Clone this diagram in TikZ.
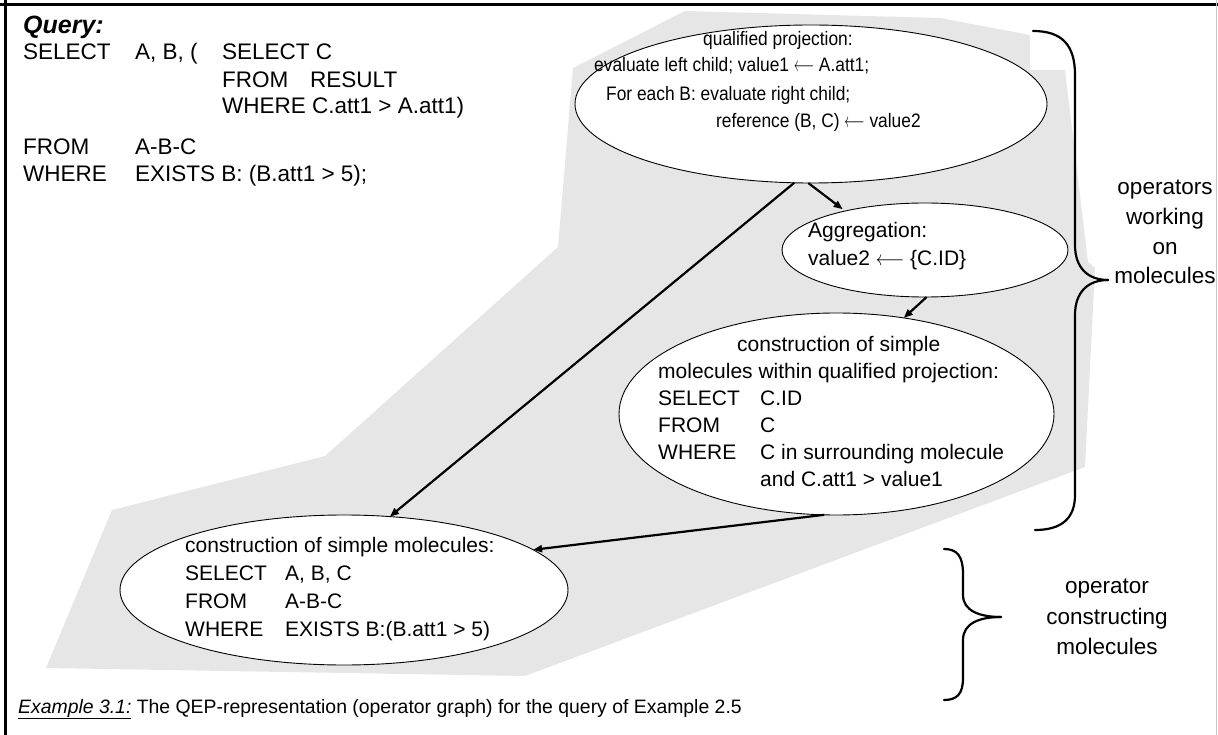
\documentclass[tikz,border=0pt]{standalone}
\usepackage{fontspec}
\usepackage{graphicx}
\setmainfont{Liberation Sans}
\usetikzlibrary{shapes.geometric,arrows.meta}
\definecolor{greyzone}{RGB}{230,230,230}
\definecolor{rim}{RGB}{200,200,200}
\newcommand{\larr}{\scalebox{0.85}[1]{$\longleftarrow$}}
\newcommand{\sarr}{\scalebox{0.68}[1]{$\longleftarrow$}}
\newcommand{\narrow}[1]{\scalebox{0.89}[1]{#1}}
\begin{document}
\begin{tikzpicture}[x=1pt,y=-1pt,
  oval/.style={ellipse, draw, fill=white, line width=0.9pt, inner sep=0pt, outer sep=0pt},
  qhead/.style={anchor=base west, inner sep=0pt, font=\fontsize{25}{30}\selectfont\bfseries\itshape},
  qtext/.style={anchor=base west, inner sep=0pt, font=\fontsize{22.5}{27}\selectfont},
  ptext/.style={anchor=base west, inner sep=0pt, font=\fontsize{19.5}{23}\selectfont},
  etext/.style={anchor=base west, inner sep=0pt, font=\fontsize{21}{25}\selectfont},
  side/.style={anchor=base, inner sep=0pt, font=\fontsize{22.5}{27}\selectfont},
  capt/.style={anchor=base west, inner sep=0pt, font=\fontsize{19.4}{24}\selectfont},
  flow/.style={line width=2.2pt, -{Triangle[length=9pt,width=7pt]}},
  bracestroke/.style={line width=2.2pt, line cap=round}
]
\useasboundingbox (0,0) rectangle (1218,735);
% grey region
\fill[greyzone] (685,11) -- (940,18) -- (1030,35) -- (1030,70) -- (1065,70) -- (1088,262)
  -- (1095,268) -- (1085,467) -- (525,676) -- (46,668) -- (112,510) -- (325,456)
  -- (558,247) -- (573,68) -- cycle;
% frame
\draw[line width=3pt] (0,4.5) -- (1218,4.5);
\draw[line width=3pt] (5.5,0) -- (5.5,735);
\draw[rim, line width=0.8pt] (1216.5,0) -- (1216.5,735);

% query
\node[qhead] (qh) at (23,34) {Query:};
\node[qtext] (q1a) at (23,60) {SELECT};
\node[qtext] (q1b) at (135,60) {A, B, (};
\node[qtext] (q1c) at (222,60) {SELECT C};
\node[qtext] (q2a) at (222,88) {FROM};
\node[qtext] (q2b) at (310,88) {RESULT};
\node[qtext] (q3) at (222,114) {WHERE C.att1 > A.att1)};
\node[qtext] (q4a) at (23,155) {FROM};
\node[qtext] (q4b) at (135,155) {A-B-C};
\node[qtext] (q5a) at (23,182) {WHERE};
\node[qtext] (q5b) at (135,182) {EXISTS B: (B.att1 > 5);};

% ellipses
\node[oval, minimum width=472pt, minimum height=158pt] (e1) at (811,104) {};
\node[oval, minimum width=286pt, minimum height=94pt] (e2) at (925,250) {};
\node[oval, minimum width=435pt, minimum height=202pt] (e3) at (836.5,414) {};
\node[oval, minimum width=448pt, minimum height=150pt] (e4) at (344,590) {};

% texts of e1
\node[ptext] (t11) at (703,46) {\narrow{qualified projection:}};
\node[ptext] (t12) at (594,72) {\narrow{evaluate left child; value1 \sarr{} A.att1;}};
\node[ptext] (t13) at (606,101) {\narrow{For each B: evaluate right child;}};
\node[ptext] (t14) at (716,128) {\narrow{reference (B, C) \sarr{} value2}};
% texts of e2
\node[etext] (t21) at (808,238) {Aggregation:};
\node[etext] (t22) at (808,266) {value2 \larr{} \{C.ID\}};
% texts of e3
\node[etext] (t31) at (737,351) {construction of simple};
\node[etext] (t32) at (658,378) {molecules within qualified projection:};
\node[etext] (t33a) at (658,405) {SELECT};
\node[etext] (t33b) at (760,405) {C.ID};
\node[etext] (t34a) at (658,432) {FROM};
\node[etext] (t34b) at (760,432) {C};
\node[etext] (t35a) at (658,459) {WHERE};
\node[etext] (t35b) at (760,459) {C in surrounding molecule};
\node[etext] (t36) at (760,486) {and C.att1 > value1};
% texts of e4
\node[etext] (t41) at (185,552) {construction of simple molecules:};
\node[etext] (t42a) at (185,580) {SELECT};
\node[etext] (t42b) at (285,580) {A, B, C};
\node[etext] (t43a) at (185,608) {FROM};
\node[etext] (t43b) at (285,608) {A-B-C};
\node[etext] (t44a) at (185,636) {WHERE};
\node[etext] (t44b) at (285,636) {EXISTS B:(B.att1 > 5)};

% connectors
\draw[flow] (e1.258) -- (e4.58);
\draw[flow, shorten >=3pt] (e1.268) -- (e2.154);
\draw[flow] (e2.272) -- (e3.55);
\draw[flow] (e3.263) -- (e4.12);

% braces
\coordinate (ba) at (1033,31);
\coordinate (bt) at (1108,280);
\coordinate (bb) at (1035,530);
\draw[bracestroke] (ba) .. controls (1062,31) and (1075,45) .. (1075,75) -- (1075,245)
  .. controls (1075,268) and (1088,280) .. (bt);
\draw[bracestroke] (bt) .. controls (1088,280) and (1075,292) .. (1075,315) -- (1075,495)
  .. controls (1075,518) and (1062,530) .. (bb);
\coordinate (ca) at (944,549);
\coordinate (ct) at (1001,617);
\coordinate (cb) at (944,700);
\draw[bracestroke] (ca) .. controls (957,549) and (963,556) .. (963,574) -- (963,595)
  .. controls (963,611) and (980,617) .. (ct);
\draw[bracestroke] (ct) .. controls (980,617) and (963,623) .. (963,640) -- (963,678)
  .. controls (963,694) and (957,700) .. (cb);

% side labels
\node[side] (s1) at (1165,195) {operators};
\node[side] (s2) at (1165,225) {working};
\node[side] (s3) at (1165,255) {on};
\node[side] (s4) at (1165,284) {molecules};
\node[side] (s5) at (1107,593) {operator};
\node[side] (s6) at (1107,624) {constructing};
\node[side] (s7) at (1107,654) {molecules};

% caption
\node[capt] (cap) at (18,713) {\underline{\textit{Example 3.1:}} The QEP-representation (operator graph) for the query of Example 2.5};
\end{tikzpicture}
\end{document}
